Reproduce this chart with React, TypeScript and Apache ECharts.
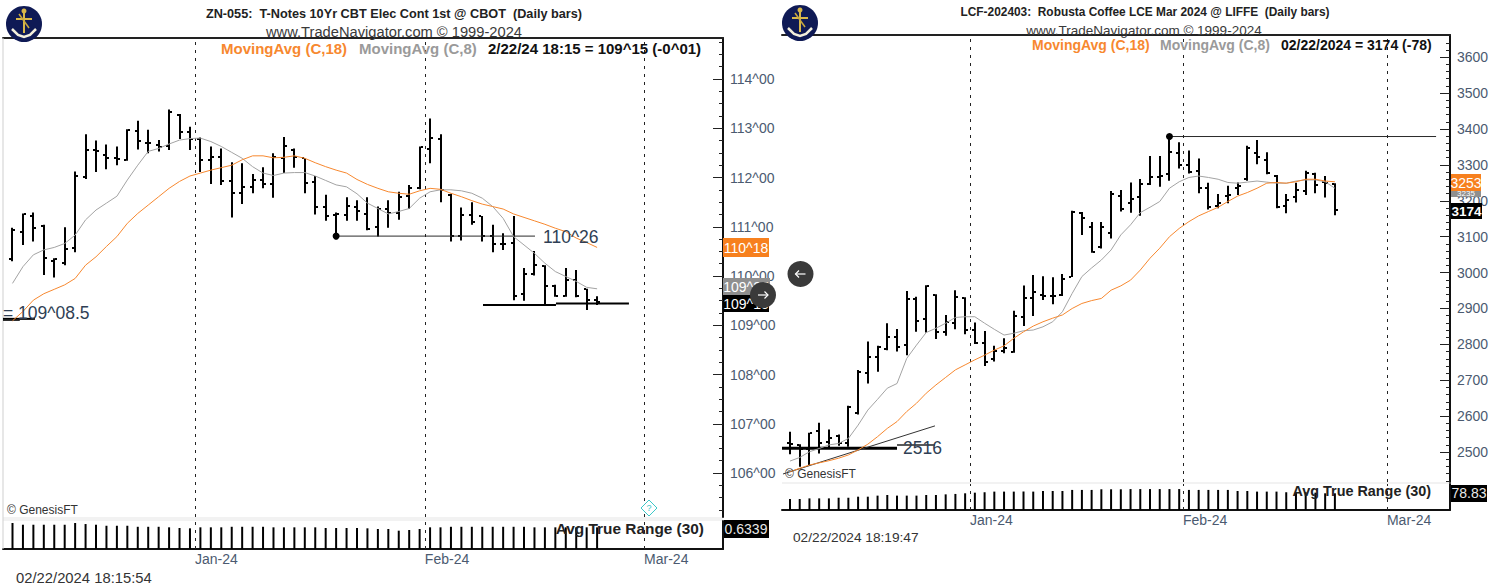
import React, { useEffect, useRef } from "react";
import * as echarts from "echarts";

const FONT = "Liberation Sans";

// ---------- ZN (left) : [open, high, low, close] ----------
const znBars = [
  [110.35,110.98,110.30,110.93],[110.90,111.27,110.63,111.26],[111.22,111.29,110.70,110.97],[111.02,111.04,110.02,110.36],
  [110.31,110.36,109.97,110.34],[110.26,110.99,110.22,110.54],[110.56,112.12,110.48,112.04],[112.02,112.88,111.97,112.55],
  [112.55,112.75,112.11,112.53],[112.46,112.67,112.17,112.39],[112.39,112.63,112.25,112.38],[112.36,112.98,112.34,112.97],
  [112.95,113.15,112.57,112.74],[112.71,112.97,112.49,112.71],[112.66,112.76,112.53,112.61],[112.63,113.38,112.56,113.32],
  [113.27,113.29,112.78,112.93],[112.93,113.03,112.56,112.78],[112.78,112.81,112.11,112.36],[112.36,112.63,111.87,112.42],
  [112.42,112.59,111.85,111.92],[111.92,112.31,111.19,111.68],[111.68,112.29,111.46,111.81],[111.81,112.07,111.68,111.95],
  [111.95,112.21,111.78,111.86],[111.86,112.49,111.59,112.42],[112.39,112.82,112.09,112.63],[112.56,112.59,112.20,112.42],
  [112.39,112.39,111.68,111.88],[111.90,112.03,111.25,111.41],[111.41,111.65,111.12,111.21],[111.24,111.29,110.79,111.26],
  [111.24,111.60,111.12,111.42],[111.41,111.54,111.12,111.31],[111.26,111.60,110.93,110.95],[111.00,111.41,110.80,111.37],
  [111.37,111.54,110.98,111.27],[111.27,111.71,111.14,111.60],[111.62,111.85,111.36,111.78],[111.78,112.63,111.76,112.61],
  [112.57,113.20,112.29,112.80],[112.78,112.88,111.50,111.75],[111.65,111.67,110.70,110.82],[110.82,111.39,110.72,111.24],
  [111.24,111.50,111.04,111.09],[111.21,111.22,110.70,110.82],[110.82,111.04,110.48,110.65],[110.65,110.87,110.53,110.64],
  [110.68,111.22,109.51,109.59],[109.63,110.16,109.50,110.05],[110.05,110.51,110.01,110.22],[110.21,110.22,109.43,109.80],
  [109.80,109.82,109.58,109.60],[109.60,110.16,109.58,109.92],[109.92,110.12,109.57,109.60],[109.74,109.74,109.31,109.51],
  [109.51,109.59,109.41,109.47],
];
const znMa8 = [109.85,110.19,110.43,110.53,110.58,110.66,110.83,111.14,111.34,111.48,111.62,111.95,112.25,112.53,112.59,112.68,112.76,112.79,112.80,112.73,112.63,112.51,112.39,112.22,112.09,112.04,112.09,112.10,112.10,112.03,111.94,111.85,111.81,111.67,111.48,111.37,111.26,111.31,111.37,111.58,111.71,111.75,111.75,111.73,111.68,111.58,111.41,111.17,110.80,110.63,110.46,110.26,110.09,109.99,109.89,109.77,109.74];
const znMa18 = [109.09,109.28,109.51,109.64,109.73,109.82,109.95,110.22,110.39,110.60,110.80,111.07,111.27,111.44,111.61,111.78,111.92,112.03,112.09,112.15,112.20,112.25,112.36,112.44,112.44,112.40,112.41,112.44,112.39,112.30,112.22,112.15,112.09,111.96,111.86,111.78,111.71,111.68,111.66,111.73,111.78,111.76,111.68,111.61,111.53,111.46,111.41,111.36,111.26,111.19,111.12,111.05,110.97,110.90,110.77,110.68,110.58];
const znAtr = [0.76,0.71,0.71,0.71,0.71,0.71,0.76,0.73,0.71,0.68,0.68,0.68,0.65,0.65,0.65,0.634,0.614,0.605,0.634,0.634,0.634,0.65,0.65,0.65,0.65,0.634,0.634,0.634,0.634,0.634,0.614,0.614,0.614,0.614,0.605,0.585,0.585,0.536,0.556,0.585,0.634,0.634,0.65,0.65,0.65,0.65,0.65,0.65,0.65,0.65,0.634,0.634,0.634,0.634,0.634,0.634,0.634];
const znMajorTicks = [106,107,108,109,110,111,112,113,114];
const znMonthTicks = [17.48,39.5,60.5];
const monthLabels = ["Jan-24","Feb-24","Mar-24"];
const znResistance = [[31,110.81],[50.05,110.81]];
const znSupportA = [[45.07,109.41],[52.06,109.41]];
const znSupportB = [[52.06,109.44],[59.05,109.44]];
const znOldLevelA = [[-0.91,109.13],[2.15,109.13]];
const znOldLevelB = [[-0.91,109.10],[0.7,109.10]];

// ---------- LCF (right) : [open, high, low, close] ----------
const lcfBars = [
  [2526,2557,2494,2522],[2520,2522,2459,2510],[2510,2554,2464,2552],[2560,2582,2496,2524],
  [2529,2563,2512,2540],[2546,2549,2518,2524],[2526,2629,2515,2625],[2608,2729,2605,2724],
  [2719,2808,2691,2764],[2764,2796,2724,2794],[2787,2859,2784,2821],[2820,2843,2780,2792],
  [2798,2949,2770,2926],[2926,2933,2835,2866],[2871,2965,2833,2964],[2938,2940,2815,2835],
  [2835,2882,2824,2863],[2859,2951,2842,2931],[2928,2931,2828,2840],[2840,2861,2801,2803],
  [2803,2837,2740,2752],[2758,2796,2752,2782],[2782,2817,2775,2789],[2780,2894,2777,2879],
  [2877,2964,2851,2928],[2928,2993,2879,2947],[2938,2990,2924,2935],[2935,2987,2912,2935],
  [2938,2996,2935,2982],[2988,3172,2988,3169],[3166,3169,3105,3152],[3127,3141,3055,3057],
  [3071,3141,3067,3127],[3109,3227,3095,3219],[3213,3230,3170,3176],[3193,3251,3167,3205],
  [3210,3261,3158,3247],[3246,3325,3244,3265],[3267,3325,3239,3269],[3275,3379,3256,3335],
  [3332,3363,3290,3300],[3300,3340,3276,3281],[3284,3318,3221,3235],[3235,3250,3176,3182],
  [3185,3219,3179,3195],[3213,3242,3193,3216],[3235,3251,3216,3242],[3260,3353,3256,3346],
  [3332,3369,3302,3321],[3315,3335,3274,3278],[3270,3272,3179,3182],[3185,3219,3165,3202],
  [3210,3250,3195,3230],[3228,3284,3216,3278],[3276,3278,3221,3244],[3251,3269,3209,3249],
  [3247,3249,3160,3174],
];
const lcfMa8 = [2475,2485,2501,2510,2520,2524,2538,2575,2617,2647,2678,2691,2761,2798,2833,2845,2859,2875,2877,2877,2859,2842,2826,2831,2838,2840,2849,2863,2891,2942,2989,3013,3035,3063,3105,3133,3167,3182,3198,3235,3253,3265,3269,3265,3260,3251,3249,3252,3255,3252,3249,3249,3255,3258,3258,3253,3235];
const lcfMa18 = [2445,2455,2464,2470,2476,2483,2492,2506,2522,2543,2566,2585,2613,2636,2664,2687,2708,2729,2743,2757,2770,2784,2796,2817,2835,2851,2863,2873,2882,2900,2914,2922,2928,2951,2963,2979,3007,3040,3068,3100,3123,3142,3158,3170,3182,3198,3213,3223,3235,3249,3251,3249,3253,3260,3260,3255,3253];
const lcfAtr = [52,52,55,55,55,58,58,63,63,68,71,68,68,68,71,71,74,76,79,82,84,87,87,87,87,87,90,90,90,95,95,95,98,98,98,99,99,99,99,99,99,95,95,95,95,95,90,90,87,87,87,84,84,84,82,79,79];
const lcfMajorTicks = [2500,2600,2700,2800,2900,3000,3100,3200,3300,3400,3500,3600];
const lcfMonthTicks = [18.5,40.39,61.35];
const lcfResistance = [[39,3379],[66.4,3379]];
const lcfSupportThick = [[-0.82,2511],[11,2511]];
const lcfSupportThin = [[11,2520],[14.9,2520]];
const lcfTrend = [[-0.72,2439],[14.9,2573]];

const ORANGE = "#f7882f";
const GRAY = "#a3a3a3";
const LABEL = "#4b5a70";
const ANNOT = "#2f3f55";

const withIndex = (bars: number[][]) => bars.map((b, i) => [i, ...b]);
const xy = (vals: number[]) => vals.map((v, i) => [i, v]);

function renderOhlc(_: any, api: any) {
  const i = api.value(0);
  const [xRaw] = api.coord([i, 0]);
  const x = Math.round(xRaw);
  const yO = Math.round(api.coord([i, api.value(1)])[1]);
  const yH = api.coord([i, api.value(2)])[1];
  const yL = api.coord([i, api.value(3)])[1];
  const yC = Math.round(api.coord([i, api.value(4)])[1]);
  const fill = { fill: "#000" };
  return {
    type: "group",
    children: [
      { type: "rect", shape: { x: x - 1, y: yH, width: 2, height: yL - yH }, style: fill },
      { type: "rect", shape: { x: x - 3, y: yO - 1, width: 2, height: 2 }, style: fill },
      { type: "rect", shape: { x: x + 1, y: yC - 1, width: 2, height: 2 }, style: fill },
    ],
  };
}

const txt = (x: number, y: number, text: string, size: number, fill: string, bold = false, align = "left") => ({
  type: "text",
  x,
  y,
  z: 50,
  silent: true,
  style: { text, fontSize: size, fontFamily: FONT, fontWeight: bold ? "bold" : "normal", fill, align, verticalAlign: "middle", textAlign: align, textVerticalAlign: "middle" },
});
const box = (x: number, y: number, w: number, h: number, fill: string, z = 40) => ({
  type: "rect", z, silent: true, shape: { x, y, width: w, height: h }, style: { fill },
});
const seg = (x1: number, y1: number, x2: number, y2: number, stroke: string, lineWidth = 1, z = 60) => ({
  type: "line", z, silent: true, shape: { x1, y1, x2, y2 }, style: { stroke, lineWidth },
});
const logo = (cx: number, cy: number) => [
  { type: "circle", z: 40, silent: true, shape: { cx, cy, r: 18 }, style: { fill: "#0f1a55" } },
  seg(cx, cy - 12, cx, cy + 9, "#d9b84a", 2, 41),
  seg(cx - 8, cy - 5, cx + 8, cy - 5, "#d9b84a", 2, 41),
  seg(cx - 5, cy - 10, cx + 5, cy + 4, "#c9a93e", 1.5, 41),
  { type: "circle", z: 41, silent: true, shape: { cx, cy: cy - 13, r: 2.5 }, style: { fill: "#d9b84a" } },
  { type: "polyline", z: 41, silent: true, shape: { points: [[cx - 12, cy + 5], [cx - 6, cy + 11], [cx, cy + 13], [cx + 6, cy + 11], [cx + 12, cy + 5]] }, style: { stroke: "#f4f0dc", lineWidth: 2.5, fill: "none" } },
];
const navCircle = (cx: number, cy: number, dir: number) => [
  { type: "circle", z: 70, silent: true, shape: { cx, cy, r: 13 }, style: { fill: "#3a3a3a" } },
  seg(cx - 5, cy, cx + 5, cy, "#fff", 1.2, 71),
  { type: "polyline", z: 71, silent: true, shape: { points: [[cx + dir * 1.5, cy - 3.5], [cx + dir * 5, cy], [cx + dir * 1.5, cy + 3.5]] }, style: { stroke: "#fff", lineWidth: 1.2, fill: "none" } },
];

const dashMark = (vals: number[]) => ({
  silent: true,
  symbol: "none",
  label: { show: false },
  lineStyle: { color: "#222", type: [3, 5], width: 1 },
  data: vals.map((v) => ({ xAxis: v })),
});

const levelLine = (data: number[][], xAxisIndex: number, yAxisIndex: number, width: number, color = "#2a2a2a", dot = false) => ({
  type: "line",
  xAxisIndex,
  yAxisIndex,
  data: dot ? data.map((d, i) => ({ value: d, symbol: i === 0 ? "circle" : "none", symbolSize: i === 0 ? 7 : 0 })) : data,
  showSymbol: dot,
  symbol: "circle",
  lineStyle: { color, width },
  itemStyle: { color: "#000" },
  silent: true,
  z: 4,
});

function buildOption() {
  const L = { min: -0.91, max: 68.06, yMin: 105.1066, yMax: 114.8325 };
  const R = { min: -0.82, max: 67.83, yMin: 2416.7, yMax: 3661.8 };
  const znMinor: number[] = [];
  for (let v = 105.25; v < 114.8; v += 0.25) znMinor.push(v);
  const lcfMinor: number[] = [];
  for (let v = 2420; v < 3660; v += 20) lcfMinor.push(v);

  const topAxis = (gridIndex: number, a: any) => ({
    type: "value", gridIndex, min: a.min, max: a.max, position: "top",
    axisLine: { show: true, onZero: false, lineStyle: { color: "#222", width: 2 } },
    axisTick: { show: false }, axisLabel: { show: false }, splitLine: { show: false },
  });
  const bottomAxis = (gridIndex: number, a: any, ticks: number[]) => ({
    type: "value", gridIndex, min: a.min, max: a.max, position: "bottom",
    axisLine: { show: true, onZero: false, lineStyle: { color: "#111", width: 2 } },
    axisTick: { show: false }, splitLine: { show: false },
    axisLabel: {
      show: true, customValues: ticks, align: "left", margin: 3, color: LABEL, fontFamily: FONT, fontSize: 14,
      formatter: (v: number) => monthLabels[ticks.indexOf(v)] ?? "",
    },
  });
  const priceAxis = (gridIndex: number, a: any, ticks: number[], fmt: (v: number) => string, line = true) => ({
    type: "value", gridIndex, min: a.yMin, max: a.yMax, position: "right", scale: true,
    axisLine: { show: line, onZero: false, lineStyle: { color: "#111", width: 2 } },
    axisTick: { show: true, inside: true, length: 10, customValues: ticks, lineStyle: { color: "#222", width: 1 } },
    axisLabel: { show: true, customValues: ticks, formatter: fmt, color: LABEL, fontFamily: FONT, fontSize: 14, margin: 7 },
    splitLine: { show: false },
  });
  const minorAxis = (gridIndex: number, a: any, ticks: number[]) => ({
    type: "value", gridIndex, min: a.yMin, max: a.yMax, position: "right", scale: true,
    axisLine: { show: false, onZero: false },
    axisTick: { show: true, inside: true, length: 4, customValues: ticks, lineStyle: { color: "#222", width: 1 } },
    axisLabel: { show: false }, splitLine: { show: false },
  });
  const atrAxis = (gridIndex: number, max: number) => ({
    type: "value", gridIndex, min: 0, max, position: "right",
    axisLine: { show: true, onZero: false, lineStyle: { color: "#111", width: 2 } },
    axisTick: { show: false }, axisLabel: { show: false }, splitLine: { show: false },
  });

  const grid = [
    { left: 3, top: 38, width: 720, height: 479 },
    { left: 3, top: 521, width: 720, height: 28 },
    { left: 782, top: 35, width: 668, height: 447 },
    { left: 782, top: 484, width: 668, height: 26 },
  ];
  const xAxis = [topAxis(0, L), bottomAxis(1, L, znMonthTicks), topAxis(2, R), bottomAxis(3, R, lcfMonthTicks)];
  const yAxis = [
    priceAxis(0, L, znMajorTicks, (v) => `${v}^00`),
    minorAxis(0, L, znMinor),
    atrAxis(1, 0.819),
    priceAxis(2, R, lcfMajorTicks, (v) => `${v}`),
    minorAxis(2, R, lcfMinor),
    atrAxis(3, 123),
  ];

  const ohlc = (bars: number[][], xi: number, yi: number, ticks: number[]) => ({
    type: "custom", xAxisIndex: xi, yAxisIndex: yi, data: withIndex(bars), renderItem: renderOhlc,
    encode: { x: 0, y: [1, 2, 3, 4] }, z: 2, silent: true, markLine: dashMark(ticks),
  });
  const ma = (vals: number[], color: string, xi: number, yi: number) => ({
    type: "line", xAxisIndex: xi, yAxisIndex: yi, data: xy(vals), showSymbol: false, symbol: "none",
    lineStyle: { color, width: 1 }, silent: true, z: 5,
  });
  const atr = (vals: number[], xi: number, yi: number, ticks: number[]) => ({
    type: "bar", xAxisIndex: xi, yAxisIndex: yi, data: xy(vals), barWidth: 2,
    itemStyle: { color: "#000" }, silent: true, z: 2, markLine: dashMark(ticks),
  });

  const series = [
    ohlc(znBars, 0, 0, znMonthTicks),
    ma(znMa8, GRAY, 0, 0),
    ma(znMa18, ORANGE, 0, 0),
    levelLine(znResistance, 0, 0, 1, "#2a2a2a", true),
    levelLine(znSupportA, 0, 0, 2, "#000"),
    levelLine(znSupportB, 0, 0, 2, "#000"),
    levelLine(znOldLevelA, 0, 0, 2, "#000"),
    levelLine(znOldLevelB, 0, 0, 1, "#000"),
    atr(znAtr, 1, 2, znMonthTicks),
    ohlc(lcfBars, 2, 3, lcfMonthTicks),
    ma(lcfMa8, GRAY, 2, 3),
    ma(lcfMa18, ORANGE, 2, 3),
    levelLine(lcfResistance, 2, 3, 1, "#2a2a2a", true),
    levelLine(lcfSupportThick, 2, 3, 3, "#000"),
    levelLine(lcfSupportThin, 2, 3, 1.5, "#222"),
    levelLine(lcfTrend, 2, 3, 1, "#333"),
    atr(lcfAtr, 3, 5, lcfMonthTicks),
  ];

  const graphic = [
    ...logo(24, 24),
    ...logo(800, 23),
    box(3, 517, 720, 4, "#f2f2f2", 0),
    box(782, 482, 668, 2, "#f2f2f2", 0),
    seg(3, 38, 3, 549, "#cfcfcf", 1, 1),
    txt(394, 14, "ZN-055:  T-Notes 10Yr CBT Elec Cont 1st @ CBOT  (Daily bars)", 12.7, "#222", true, "center"),
    txt(394, 32, "www.TradeNavigator.com © 1999-2024", 14.7, "#3a3a3a", false, "center"),
    txt(221, 48, "MovingAvg (C,18)", 15, ORANGE, true),
    txt(359, 48, "MovingAvg (C,8)", 15, "#9a9a9a", true),
    txt(488, 48, "2/22/24 18:15 = 109^15 (-0^01)", 15, "#111", true),
    txt(3, 313, "= 109^08.5", 17.5, ANNOT),
    txt(543, 237, "110^26", 17.5, ANNOT),
    txt(7, 510, "© GenesisFT", 12, "#333"),
    txt(704, 528, "Avg True Range (30)", 15.4, "#222", true, "right"),
    txt(16, 578, "02/22/2024 18:15:54", 14.8, "#333"),
    box(723, 238, 46, 19, "#f7801e"),
    txt(746, 248, "110^18", 14, "#fff", false, "center"),
    box(723, 278, 47, 18, "#8f8f8f"),
    txt(746, 287, "109^25", 14, "#fff", false, "center"),
    box(723, 295, 46, 17, "#000"),
    txt(746, 304, "109^15", 14, "#fff", false, "center"),
    box(724, 520, 45, 18, "#000"),
    txt(746, 529, "0.6339", 14, "#e8e8e8", false, "center"),
    { type: "polygon", z: 50, silent: true, shape: { points: [[649, 500], [657, 508], [649, 516], [641, 508]] }, style: { fill: "#fff", stroke: "#3cc8c8", lineWidth: 1 } },
    txt(649, 508, "?", 9, "#3cc8c8", false, "center"),
    ...navCircle(763, 295, 1),
    ...navCircle(800.5, 274, -1),

    txt(1145, 12, "LCF-202403:  Robusta Coffee LCE Mar 2024 @ LIFFE  (Daily bars)", 11.9, "#222", true, "center"),
    txt(1144, 30, "www.TradeNavigator.com © 1999-2024", 13.5, "#3a3a3a", false, "center"),
    txt(1032, 45, "MovingAvg (C,18)", 14, ORANGE, true),
    txt(1160, 45, "MovingAvg (C,8)", 14, "#9a9a9a", true),
    txt(1281, 45, "02/22/2024 = 3174 (-78)", 14, "#111", true),
    txt(903, 448, "2516", 17.5, ANNOT),
    txt(785, 474, "© GenesisFT", 12, "#333"),
    txt(1431, 491, "Avg True Range (30)", 14.4, "#222", true, "right"),
    txt(793, 537, "02/22/2024 18:19:47", 13.7, "#333"),
    box(1451, 188, 30, 9, "#8f8f8f"),
    txt(1466, 193, "3235", 8, "#fff", false, "center"),
    box(1451, 174, 30, 17, "#f7801e"),
    txt(1466, 183, "3253", 14, "#fff", false, "center"),
    box(1451, 203, 31, 16, "#000"),
    txt(1466.5, 211, "3174", 13.5, "#fff", true, "center"),
    box(1451, 485, 36, 17, "#000"),
    txt(1469, 493, "78.83", 14, "#e8e8e8", false, "center"),
  ];

  return { animation: false, backgroundColor: "#fff", grid, xAxis, yAxis, series, graphic, tooltip: { show: false } };
}

export default function App() {
  const ref = useRef<HTMLDivElement>(null);
  useEffect(() => {
    document.body.style.margin = "0";
    const chart = echarts.init(ref.current!, undefined, { renderer: "svg" });
    chart.setOption(buildOption() as any);
    return () => chart.dispose();
  }, []);
  return <div ref={ref} style={{ width: 1502, height: 588 }} />;
}
